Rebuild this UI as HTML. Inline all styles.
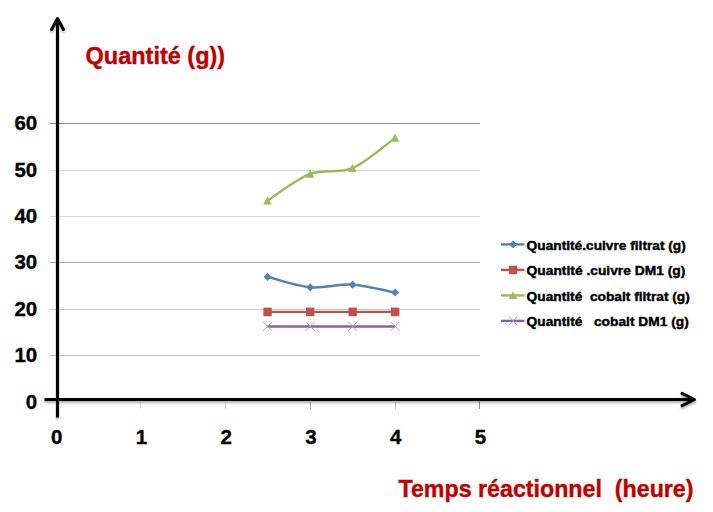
<!DOCTYPE html><html><head><meta charset="utf-8"><title>Quantité</title><style>html,body{margin:0;padding:0;background:#fff;width:713px;height:512px;overflow:hidden}svg{display:block}text{font-family:'Liberation Sans', Arial, sans-serif;font-weight:bold}</style></head><body>
<svg width="713" height="512" viewBox="0 0 713 512">
<rect width="713" height="512" fill="#fff"/>
<line x1="49.5" y1="123.5" x2="480" y2="123.5" stroke="#8e8e8e" stroke-width="1"/>
<line x1="49.5" y1="170.5" x2="480" y2="170.5" stroke="#dedede" stroke-width="1"/>
<line x1="49.5" y1="216.5" x2="480" y2="216.5" stroke="#dadada" stroke-width="1"/>
<line x1="49.5" y1="262.5" x2="480" y2="262.5" stroke="#a8a8a8" stroke-width="1"/>
<line x1="49.5" y1="309.5" x2="480" y2="309.5" stroke="#c8c8c8" stroke-width="1"/>
<line x1="49.5" y1="355.5" x2="480" y2="355.5" stroke="#c4c4c4" stroke-width="1"/>
<line x1="140.5" y1="401.5" x2="140.5" y2="409" stroke="#dedede" stroke-width="1"/>
<line x1="225.5" y1="401.5" x2="225.5" y2="409" stroke="#d6d6d6" stroke-width="1"/>
<line x1="310.5" y1="401.5" x2="310.5" y2="409" stroke="#ababab" stroke-width="1"/>
<line x1="395.5" y1="401.5" x2="395.5" y2="409" stroke="#bdbdbd" stroke-width="1"/>
<line x1="479.5" y1="401.5" x2="479.5" y2="409" stroke="#8e8e8e" stroke-width="1"/>
<text x="37.2" y="130.4" font-size="20.5" text-anchor="end" fill="#000" stroke="#000" stroke-width="0.35">60</text>
<text x="37.2" y="177.4" font-size="20.5" text-anchor="end" fill="#000" stroke="#000" stroke-width="0.35">50</text>
<text x="37.2" y="223.4" font-size="20.5" text-anchor="end" fill="#000" stroke="#000" stroke-width="0.35">40</text>
<text x="37.2" y="269.4" font-size="20.5" text-anchor="end" fill="#000" stroke="#000" stroke-width="0.35">30</text>
<text x="37.2" y="316.4" font-size="20.5" text-anchor="end" fill="#000" stroke="#000" stroke-width="0.35">20</text>
<text x="37.2" y="362.4" font-size="20.5" text-anchor="end" fill="#000" stroke="#000" stroke-width="0.35">10</text>
<text x="37.2" y="408.8" font-size="20.5" text-anchor="end" fill="#000" stroke="#000" stroke-width="0.35">0</text>
<text x="56.6" y="444.2" font-size="20.5" text-anchor="middle" fill="#000" stroke="#000" stroke-width="0.35">0</text>
<text x="141.4" y="444.2" font-size="20.5" text-anchor="middle" fill="#000" stroke="#000" stroke-width="0.35">1</text>
<text x="226.2" y="444.2" font-size="20.5" text-anchor="middle" fill="#000" stroke="#000" stroke-width="0.35">2</text>
<text x="310.9" y="444.2" font-size="20.5" text-anchor="middle" fill="#000" stroke="#000" stroke-width="0.35">3</text>
<text x="395.6" y="444.2" font-size="20.5" text-anchor="middle" fill="#000" stroke="#000" stroke-width="0.35">4</text>
<text x="480.4" y="444.2" font-size="20.5" text-anchor="middle" fill="#000" stroke="#000" stroke-width="0.35">5</text>
<defs><filter id="sh" x="-5%" y="-5%" width="110%" height="110%"><feDropShadow dx="0" dy="2" stdDeviation="0.9" flood-color="#000" flood-opacity="0.33"/></filter></defs>
<g stroke="#000" stroke-width="3" fill="none" stroke-linecap="round" stroke-linejoin="round" filter="url(#sh)">
<line x1="57.5" y1="18" x2="57.5" y2="417.5" stroke-linecap="butt"/>
<polyline points="51.5,29.5 57.5,18.5 63.5,29.5"/>
<line x1="44.5" y1="399.5" x2="694" y2="399.5" stroke-linecap="butt"/>
<polyline points="682,393.3 694.5,399.5 682,405.7"/>
</g>
<path d="M267.60 276.80 C274.70 278.55 296.03 285.98 310.20 287.30 C324.37 288.62 338.45 283.83 352.60 284.70 C366.75 285.57 388.02 291.20 395.10 292.50" fill="none" stroke="#4F81BD" stroke-width="2.5" stroke-linejoin="round"/>
<path d="M267.50 200.70 C274.60 196.23 295.95 179.33 310.10 173.90 C324.25 168.47 338.23 174.10 352.40 168.10 C366.57 162.10 387.98 142.93 395.10 137.90" fill="none" stroke="#9BBB59" stroke-width="2.4" stroke-linejoin="round"/>
<line x1="267.6" y1="311.9" x2="395.2" y2="311.9" stroke="#C0504D" stroke-width="2.2"/>
<line x1="267.6" y1="326.5" x2="395.2" y2="326.5" stroke="#8064A2" stroke-width="2.6"/>
<path d="M267.6 272.7l3.9 4.1 -3.9 4.1 -3.9 -4.1z" fill="#4F81BD"/>
<path d="M310.2 283.2l3.9 4.1 -3.9 4.1 -3.9 -4.1z" fill="#4F81BD"/>
<path d="M352.6 280.6l3.9 4.1 -3.9 4.1 -3.9 -4.1z" fill="#4F81BD"/>
<path d="M395.1 288.4l3.9 4.1 -3.9 4.1 -3.9 -4.1z" fill="#4F81BD"/>
<rect x="263.4" y="307.6" width="8.4" height="8.6" fill="#C0504D"/>
<rect x="306.0" y="307.6" width="8.4" height="8.6" fill="#C0504D"/>
<rect x="348.5" y="307.6" width="8.4" height="8.6" fill="#C0504D"/>
<rect x="391.0" y="307.6" width="8.4" height="8.6" fill="#C0504D"/>
<path d="M267.5 196.4l4.2 8.2 -8.4 0z" fill="#9BBB59"/>
<path d="M310.1 169.6l4.2 8.2 -8.4 0z" fill="#9BBB59"/>
<path d="M352.4 163.8l4.2 8.2 -8.4 0z" fill="#9BBB59"/>
<path d="M395.1 133.6l4.2 8.2 -8.4 0z" fill="#9BBB59"/>
<path d="M263.1 321.8l9 9 M272.1 321.8l-9 9" stroke="#A595C4" stroke-width="0.9" fill="none"/>
<path d="M305.7 321.8l9 9 M314.7 321.8l-9 9" stroke="#A595C4" stroke-width="0.9" fill="none"/>
<path d="M348.2 321.8l9 9 M357.2 321.8l-9 9" stroke="#A595C4" stroke-width="0.9" fill="none"/>
<path d="M390.7 321.8l9 9 M399.7 321.8l-9 9" stroke="#A595C4" stroke-width="0.9" fill="none"/>
<text x="85.6" y="64" font-size="23.7" fill="#C00000" stroke="#C00000" stroke-width="0.4" textLength="139.6" lengthAdjust="spacingAndGlyphs">Quantité (g))</text>
<text x="398.5" y="496.8" font-size="23.7" fill="#C00000" stroke="#C00000" stroke-width="0.4" textLength="295" lengthAdjust="spacingAndGlyphs" xml:space="preserve">Temps réactionnel  (heure)</text>
<line x1="501" y1="244.4" x2="524.5" y2="244.4" stroke="#4F81BD" stroke-width="2.4"/>
<path d="M513.1 240.5l3.9 3.9 -3.9 3.9 -3.9 -3.9z" fill="#4F81BD"/>
<text x="526.6" y="249.6" font-size="12.5" fill="#000" stroke="#000" stroke-width="0.4" textLength="159.2" lengthAdjust="spacingAndGlyphs" xml:space="preserve">Quantité.cuivre filtrat (g)</text>
<line x1="501" y1="269.9" x2="524.5" y2="269.9" stroke="#C0504D" stroke-width="2.4"/>
<rect x="509.0" y="265.7" width="8.2" height="8.4" fill="#C0504D"/>
<text x="526.6" y="275.1" font-size="12.5" fill="#000" stroke="#000" stroke-width="0.4" textLength="158.7" lengthAdjust="spacingAndGlyphs" xml:space="preserve">Quantité .cuivre DM1 (g)</text>
<line x1="501" y1="295.4" x2="524.5" y2="295.4" stroke="#9BBB59" stroke-width="2.4"/>
<path d="M513.1 291.4l4.4 7.6 -8.8 0z" fill="#9BBB59"/>
<text x="526.6" y="300.6" font-size="12.5" fill="#000" stroke="#000" stroke-width="0.4" textLength="163.2" lengthAdjust="spacingAndGlyphs" xml:space="preserve">Quantité  cobalt filtrat (g)</text>
<line x1="501" y1="320.9" x2="524.5" y2="320.9" stroke="#8064A2" stroke-width="2.4"/>
<path d="M508.9 316.4l8.4 9 M517.3 316.4l-8.4 9" stroke="#A595C4" stroke-width="0.9" fill="none"/>
<text x="526.6" y="326.1" font-size="12.5" fill="#000" stroke="#000" stroke-width="0.4" textLength="162.2" lengthAdjust="spacingAndGlyphs" xml:space="preserve">Quantité   cobalt DM1 (g)</text>
</svg></body></html>
